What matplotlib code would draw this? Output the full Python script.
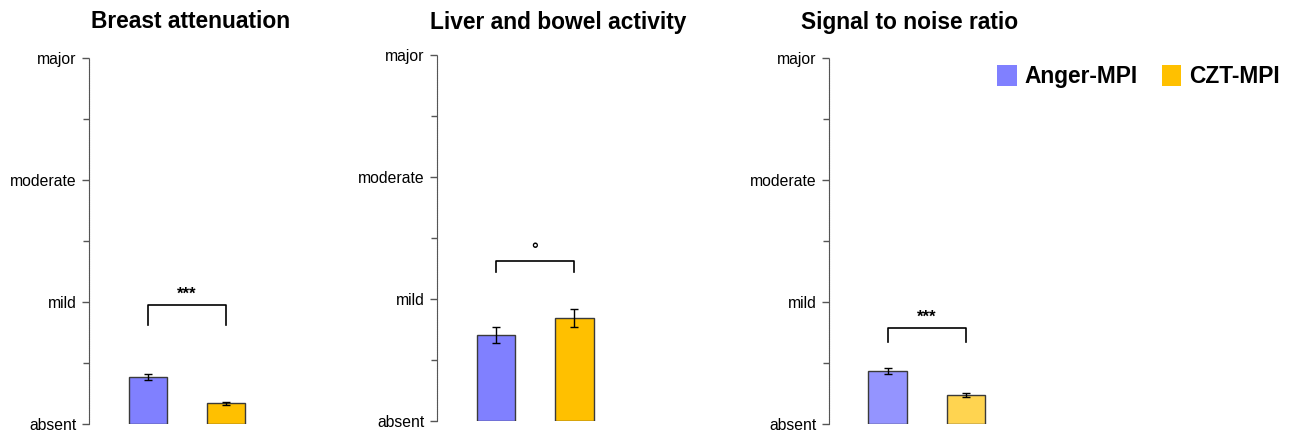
import matplotlib.pyplot as plt
from matplotlib.patches import Patch
from matplotlib.ticker import MultipleLocator

plt.rcParams['font.family'] = ['Liberation Sans', 'DejaVu Sans']

groups = ['Anger-MPI', 'CZT-MPI']
panel_titles = ['Breast attenuation', 'Liver and bowel activity', 'Signal to noise ratio']
level_labels = ['absent', 'mild', 'moderate', 'major']

anger_mean = [0.385, 0.707, 0.434]
anger_err = [0.028, 0.062, 0.022]
czt_mean = [0.170, 0.846, 0.238]
czt_err = [0.012, 0.070, 0.016]

sig_labels = ['***', '°', '***']
bracket_y = [0.975, 1.31, 0.787]
bracket_leg = [0.16, 0.09, 0.115]

anger_colors = ['#8080ff', '#8080ff', '#9494ff']
czt_colors = ['#ffc000', '#ffc000', '#ffd450']

fig = plt.figure(figsize=(12.93, 4.32), dpi=100)
fig.patch.set_facecolor('white')

lefts = [0.0688, 0.338, 0.641]
bottoms = [0.0185, 0.025, 0.0185]
title_cx = [0.147, 0.4315, 0.7035]

for i in range(3):
    ax = fig.add_axes([lefts[i], bottoms[i], 0.1547, 0.847])
    x = [1, 2]
    ax.bar(x, [anger_mean[i], czt_mean[i]], width=0.49,
           color=[anger_colors[i], czt_colors[i]], edgecolor='#3a3a3a', linewidth=1)
    ax.errorbar(x, [anger_mean[i], czt_mean[i]], yerr=[anger_err[i], czt_err[i]],
                fmt='none', ecolor='black', elinewidth=1, capsize=3, capthick=1)

    # significance bracket
    top = bracket_y[i]
    low = top - bracket_leg[i]
    ax.plot([1, 1, 2, 2], [low, top, top, low], color='black', lw=1.2)
    ax.text(1.5, top + 0.025, sig_labels[i], ha='center', va='bottom',
            fontsize=12, fontweight='bold')

    ax.set_xlim(0.25, 2.8)
    ax.set_ylim(0, 3)
    ax.set_yticks([0, 1, 2, 3])
    ax.set_yticklabels(level_labels, fontsize=11.3)
    ax.yaxis.set_minor_locator(MultipleLocator(0.5))
    ax.tick_params(axis='y', which='major', length=5, width=1, color='#555555', pad=4)
    ax.tick_params(axis='y', which='minor', length=4, width=1, color='#555555')
    ax.set_xticks([])
    for s in ['top', 'right', 'bottom']:
        ax.spines[s].set_visible(False)
    ax.spines['left'].set_color('#555555')
    ax.spines['left'].set_linestyle((0, (1, 0.6)))

    fig.text(title_cx[i], 1 - 22 / 432, panel_titles[i], ha='center', va='center',
             fontsize=16.4, fontweight='bold')

handles = [Patch(facecolor='#8080ff', edgecolor='none'),
           Patch(facecolor='#ffc000', edgecolor='none')]
fig.legend(handles, groups, loc='center', bbox_to_anchor=(0.8805, 0.822), ncol=2,
           frameon=False, prop={'size': 16.4, 'weight': 'bold'},
           handlelength=0.85, handleheight=1.0, handletextpad=0.35, columnspacing=1.05)

fig.savefig('out.png', dpi=100, facecolor='white')
